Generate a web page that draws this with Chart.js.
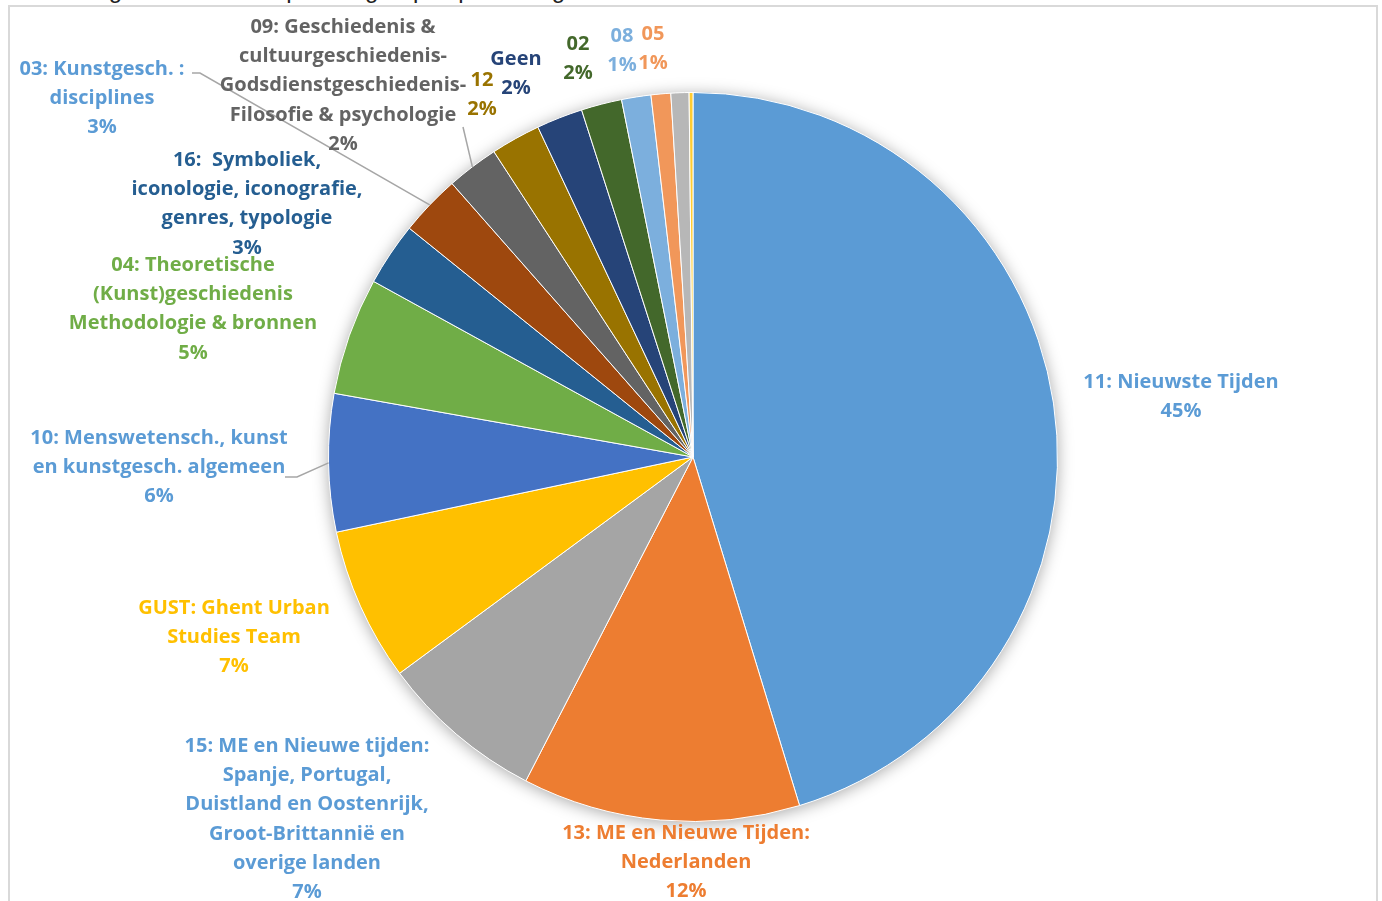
<!DOCTYPE html>
<html>
<head>
<meta charset="utf-8">
<script src="https://cdn.jsdelivr.net/npm/chart.js@4.4.0/dist/chart.umd.min.js"></script>
<style>
  html, body { margin: 0; padding: 0; background: #fff; overflow: hidden; }
  #wrap { position: relative; width: 1382px; height: 901px; }
  #frame { position: absolute; left: 8px; top: 5px; width: 1370px; height: 1000px; border: 2px solid #d9d9d9; box-sizing: border-box; }
  #title { position: absolute; left: 22px; top: -22px; font: 24px "Liberation Sans", Arial, sans-serif; line-height: 24px; color: #222; white-space: nowrap; }
  canvas { position: absolute; left: 0; top: 0; }
</style>
</head>
<body>
<div id="wrap">
  <div id="title">Verdeling aantal boeken per vakgroep in percentage</div>
  <div id="frame"></div>
  <canvas id="chart" width="1382" height="901"></canvas>
</div>
<script>
// categories (label lines), clockwise from 12 o'clock
const categories = [
    ['11: Nieuwste Tijden'],
    ['13: ME en Nieuwe Tijden:', 'Nederlanden'],
    ['15: ME en Nieuwe tijden:', 'Spanje, Portugal,', 'Duistland en Oostenrijk,', 'Groot-Brittannië en', 'overige landen'],
    ['GUST: Ghent Urban', 'Studies Team'],
    ['10: Menswetensch., kunst', 'en kunstgesch. algemeen'],
    ['04: Theoretische', '(Kunst)geschiedenis', 'Methodologie & bronnen'],
    ['16:  Symboliek,', 'iconologie, iconografie,', 'genres, typologie'],
    ['03: Kunstgesch. :', 'disciplines'],
    ['09: Geschiedenis &', 'cultuurgeschiedenis-', 'Godsdienstgeschiedenis-', 'Filosofie & psychologie'],
    ['12'],
    ['Geen'],
    ['02'],
    ['08'],
    ['05'],
    ['Overige'],
    ['Onbekend']
];

// share of each category (percent)
const values = [45.25, 12.3, 7.3, 6.8, 6.1, 5.2, 2.8, 2.7, 2.3, 2.2, 2.05, 1.8, 1.3, 0.87, 0.8, 0.17];

// which slices get a label in the original
const showLabel = [true, true, true, true, true, true, true, true, true, true, true, true, true, true, false, false];

const sliceColors = ['#5B9BD5', '#ED7D31', '#A5A5A5', '#FFC000', '#4472C4', '#70AD47', '#255E91', '#9E480E',
    '#636363', '#997300', '#264478', '#43682B', '#7CAFDD', '#F1975A', '#B7B7B7', '#FFCD33'];
const labelColors = ['#5B9BD5', '#ED7D31', '#5B9BD5', '#FFC000', '#5B9BD5', '#70AD47', '#255E91', '#5B9BD5',
    '#636363', '#997300', '#264478', '#43682B', '#7CAFDD', '#F1975A', '#B7B7B7', '#FFCD33'];

// label placement: centre x, first line y
const labelPos = [
    [1181, 382], [686, 833], [307, 746], [234, 608], [159, 438], [193, 265], [247, 160], [102, 69],
    [343, 27], [482, 80], [516, 59], [578, 44], [622, 36], [653, 34], null, null
];
// leader lines: points on the label side, the end goes to the slice edge
const leaders = {
    4: [[285, 477], [297, 477]],
    7: [[192, 73], [200, 73]],
    8: [[463, 127]]
};

const LINE_H = 29.3;
const FONT = 'bold 20px "Open Sans", Lato, sans-serif';

const total = values.reduce((a, b) => a + b, 0);

const shadowPlugin = {
    id: 'pieShadow',
    beforeDatasetsDraw(chart) {
        const arc = chart.getDatasetMeta(0).data[0];
        if (!arc) return;
        const ctx = chart.ctx;
        ctx.save();
        ctx.shadowColor = 'rgba(0,0,0,0.35)';
        ctx.shadowBlur = 16;
        ctx.shadowOffsetY = 2;
        ctx.fillStyle = '#fff';
        ctx.beginPath();
        ctx.arc(arc.x, arc.y, arc.outerRadius, 0, Math.PI * 2);
        ctx.fill();
        ctx.restore();
    }
};

const labelPlugin = {
    id: 'sliceLabels',
    afterDatasetsDraw(chart) {
        const ctx = chart.ctx;
        const arcs = chart.getDatasetMeta(0).data;
        ctx.save();

        // leader lines
        ctx.strokeStyle = '#a6a6a6';
        ctx.lineWidth = 1.5;
        Object.keys(leaders).forEach(k => {
            const arc = arcs[k];
            const mid = (arc.startAngle + arc.endAngle) / 2;
            const pts = leaders[k];
            ctx.beginPath();
            ctx.moveTo(pts[0][0], pts[0][1]);
            for (let i = 1; i < pts.length; i++) ctx.lineTo(pts[i][0], pts[i][1]);
            ctx.lineTo(arc.x + Math.cos(mid) * arc.outerRadius, arc.y + Math.sin(mid) * arc.outerRadius);
            ctx.stroke();
        });

        // texts
        ctx.font = FONT;
        ctx.textAlign = 'center';
        ctx.textBaseline = 'middle';
        arcs.forEach((arc, i) => {
            if (!showLabel[i] || !labelPos[i]) return;
            const pct = Math.round(values[i] / total * 100) + '%';
            const lines = categories[i].concat([pct]);
            ctx.fillStyle = labelColors[i];
            lines.forEach((t, j) => {
                ctx.fillText(t, labelPos[i][0], labelPos[i][1] + j * LINE_H);
            });
        });
        ctx.restore();
    }
};

const ctx = document.getElementById('chart').getContext('2d');
const chart = new Chart(ctx, {
    type: 'pie',
    data: {
        labels: categories,
        datasets: [{
            data: values,
            backgroundColor: sliceColors,
            borderColor: '#ffffff',
            borderWidth: 1
        }]
    },
    options: {
        responsive: false,
        animation: false,
        layout: {
            padding: { top: 92, bottom: 79, left: 328, right: 324 }
        },
        plugins: {
            legend: { display: false },
            tooltip: { enabled: false }
        }
    },
    plugins: [shadowPlugin, labelPlugin]
});
</script>
</body>
</html>
